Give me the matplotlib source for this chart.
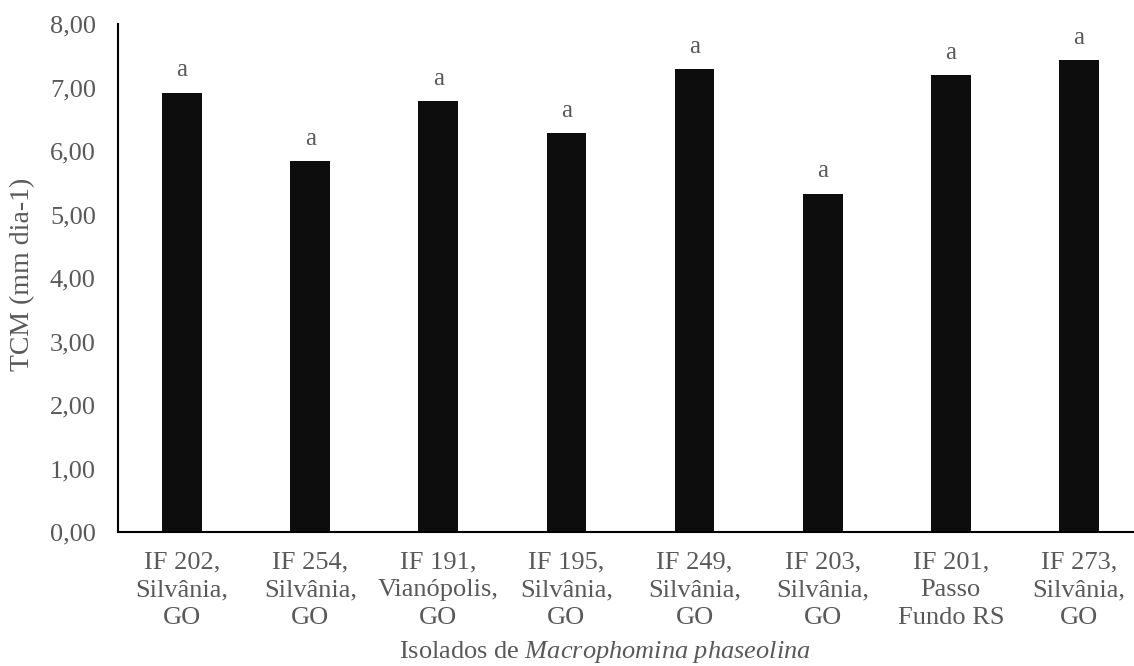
import matplotlib
matplotlib.use('Agg')
import matplotlib.pyplot as plt
import numpy as np

plt.rcParams['font.family'] = ['Liberation Serif', 'DejaVu Serif']
plt.rcParams['mathtext.fontset'] = 'custom'
plt.rcParams['mathtext.rm'] = 'Liberation Serif'
plt.rcParams['mathtext.it'] = 'Liberation Serif:italic'

isolados = ['IF 202,\nSilvânia,\nGO', 'IF 254,\nSilvânia,\nGO', 'IF 191,\nVianópolis,\nGO',
            'IF 195,\nSilvânia,\nGO', 'IF 249,\nSilvânia,\nGO', 'IF 203,\nSilvânia,\nGO',
            'IF 201,\nPasso\nFundo RS', 'IF 273,\nSilvânia,\nGO']
tcm = [6.92, 5.84, 6.79, 6.28, 7.29, 5.33, 7.20, 7.43]
letras = ['a', 'a', 'a', 'a', 'a', 'a', 'a', 'a']
yticks = [0, 1, 2, 3, 4, 5, 6, 7, 8]

grey = '#595959'
fig = plt.figure(figsize=(11.34, 6.66), dpi=100)
ax = fig.add_axes([118/1134, 134/666, 1025/1134, 508/666])

x = np.arange(len(isolados))
ax.bar(x, tcm, width=0.31, color='#0d0d0d', zorder=2)
for xi, v, l in zip(x, tcm, letras):
    ax.annotate(l, (xi, v), xytext=(0, 8), textcoords='offset points',
                ha='center', va='bottom', fontsize=18, color=grey)

ax.set_xlim(-0.5, len(isolados) - 0.5)
ax.set_ylim(0, 8)
ax.set_yticks(yticks)
ax.set_yticklabels([('%.2f' % t).replace('.', ',') for t in yticks])
ax.set_xticks(x)
ax.set_xticklabels(isolados, linespacing=1.34)
ax.tick_params(axis='y', length=0, pad=16, labelsize=19, labelcolor=grey)
ax.tick_params(axis='x', length=0, pad=14, labelsize=19, labelcolor=grey)

for s in ['top', 'right']:
    ax.spines[s].set_visible(False)
ax.spines['left'].set_linewidth(1.5)
ax.spines['bottom'].set_linewidth(1.5)

fig.text(605/1134, 1 - 652/666, r'Isolados de $\it{Macrophomina\ phaseolina}$',
         ha='center', va='center', fontsize=19, color=grey)
fig.text(23/1134, 1 - 274/666, 'TCM (mm dia-1)', rotation=90,
         ha='center', va='center', fontsize=20, color=grey)

fig.savefig('out.png', dpi=100)
